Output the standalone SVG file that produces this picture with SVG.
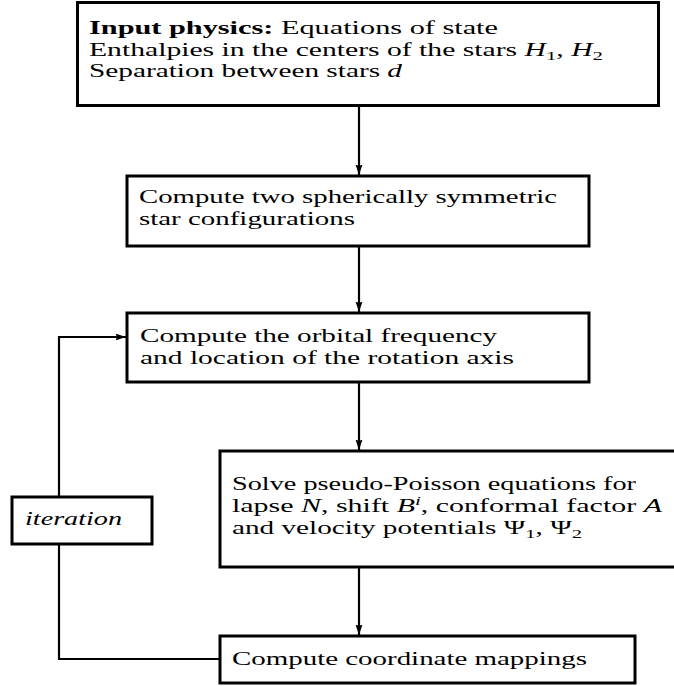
<svg xmlns="http://www.w3.org/2000/svg" width="674" height="686" viewBox="0 0 674 686">
<style>
.box{fill:#fff;stroke:#000;stroke-width:3}
.t{font-family:"Liberation Serif","Times New Roman",serif;font-size:18.5px;fill:#000}
.c{fill:none;stroke:#000;stroke-width:2.2}
.sub{font-size:13px}
</style>
<defs>
<marker id="ah" markerUnits="userSpaceOnUse" markerWidth="8" markerHeight="11" refX="4" refY="10.5" orient="0" viewBox="0 0 8 11">
<path d="M0.5,0 L4,10.5 L7.5,0 L4,1.5 z" fill="#000"/>
</marker>
<marker id="ar" markerUnits="userSpaceOnUse" markerWidth="11" markerHeight="8" refX="10.5" refY="4" orient="0" viewBox="0 0 11 8">
<path d="M0,0.5 L10.5,4 L0,7.5 L1.5,4 z" fill="#000"/>
</marker>
</defs>
<g id="connectors">
<path class="c" d="M359,106 V175" marker-end="url(#ah)"/>
<path class="c" d="M359,246 V312" marker-end="url(#ah)"/>
<path class="c" d="M359,382 V450" marker-end="url(#ah)"/>
<path class="c" d="M359,567 V635" marker-end="url(#ah)"/>
<path class="c" d="M220,659 H59 V337 H126" marker-end="url(#ar)"/>
</g>
<g id="input">
<rect class="box" x="77.5" y="2.5" width="581" height="103"/>
<text class="t" x="89" y="34" textLength="409" lengthAdjust="spacingAndGlyphs"><tspan font-weight="bold">Input physics:</tspan> Equations of state</text>
<text class="t" x="89" y="55.5" textLength="514" lengthAdjust="spacingAndGlyphs">Enthalpies in the centers of the stars <tspan font-style="italic">H</tspan><tspan class="sub" dy="4">1</tspan><tspan dy="-4">, </tspan><tspan font-style="italic">H</tspan><tspan class="sub" dy="4">2</tspan></text>
<text class="t" x="89" y="77" textLength="313" lengthAdjust="spacingAndGlyphs">Separation between stars <tspan font-style="italic">d</tspan></text>
</g>
<g id="spherical">
<rect class="box" x="127" y="176" width="462" height="70"/>
<text class="t" x="139" y="203" textLength="418" lengthAdjust="spacingAndGlyphs">Compute two spherically symmetric</text>
<text class="t" x="139" y="225" textLength="216" lengthAdjust="spacingAndGlyphs">star configurations</text>
</g>
<g id="orbital">
<rect class="box" x="127" y="313" width="462" height="69"/>
<text class="t" x="140" y="342" textLength="357" lengthAdjust="spacingAndGlyphs">Compute the orbital frequency</text>
<text class="t" x="140" y="364" textLength="374" lengthAdjust="spacingAndGlyphs">and location of the rotation axis</text>
</g>
<g id="poisson">
<rect class="box" x="220" y="451" width="460" height="116"/>
<text class="t" x="232" y="490" textLength="404" lengthAdjust="spacingAndGlyphs">Solve pseudo-Poisson equations for</text>
<text class="t" x="232" y="512" textLength="430" lengthAdjust="spacingAndGlyphs">lapse <tspan font-style="italic">N</tspan>, shift <tspan font-style="italic">B</tspan><tspan class="sub" font-style="italic" dy="-7">i</tspan><tspan dy="7">, conformal factor </tspan><tspan font-style="italic">A</tspan></text>
<text class="t" x="232" y="534" textLength="350" lengthAdjust="spacingAndGlyphs">and velocity potentials Ψ<tspan class="sub" dy="4">1</tspan><tspan dy="-4">, Ψ</tspan><tspan class="sub" dy="4">2</tspan></text>
</g>
<g id="mappings">
<rect class="box" x="220" y="636" width="415" height="47"/>
<text class="t" x="232" y="665" textLength="355" lengthAdjust="spacingAndGlyphs">Compute coordinate mappings</text>
</g>
<g id="iteration">
<rect class="box" x="12" y="497" width="140" height="47"/>
<text class="t" x="25" y="525" textLength="97" lengthAdjust="spacingAndGlyphs" font-style="italic">iteration</text>
</g>
</svg>
